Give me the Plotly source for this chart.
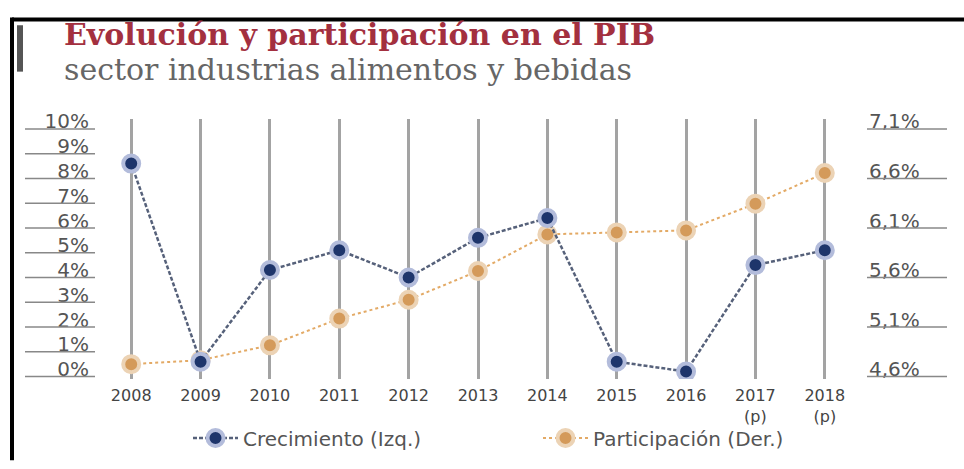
import plotly.graph_objects as go

years = ["2008", "2009", "2010", "2011", "2012", "2013", "2014", "2015", "2016", "2017", "2018"]
year_labels = ["2008", "2009", "2010", "2011", "2012", "2013", "2014", "2015", "2016", "2017<br>(p)", "2018<br>(p)"]
crecimiento = [8.3, 0.3, 4.0, 4.8, 3.7, 5.3, 6.1, 0.3, -0.1, 4.2, 4.8]
participacion = [4.65, 4.69, 4.84, 5.11, 5.30, 5.59, 5.96, 5.98, 6.00, 6.27, 6.58]
left_ticks = [0, 1, 2, 3, 4, 5, 6, 7, 8, 9, 10]
left_labels = ["0%", "1%", "2%", "3%", "4%", "5%", "6%", "7%", "8%", "9%", "10%"]
right_ticks = [4.6, 5.1, 5.6, 6.1, 6.6, 7.1]
right_labels = ["4,6%", "5,1%", "5,6%", "6,1%", "6,6%", "7,1%"]

W, H = 964, 469
ML, MR, MT, MB = 100, 108, 119, 81
PW, PH = W - ML - MR, H - MT - MB


def px_x(p):
    return (p - ML) / PW


def px_y(p):
    return (H - MB - p) / PH


BLUE = "#1e356b"
BLUE_HALO = "#b3bcdb"
ORANGE = "#d49a5a"
ORANGE_HALO = "#ecd3b5"
TXT = "#555555"

fig = go.Figure()
# right axis (participación) is the base axis "y"; left axis (crecimiento) overlays it as "y2"
fig.add_trace(go.Scatter(
    x=years, y=participacion, yaxis="y", name="Participación (Der.)",
    mode="lines+markers",
    line=dict(color="#e3aa66", width=2, dash="dot"),
    marker=dict(size=16, color=ORANGE, line=dict(color=ORANGE_HALO, width=4)),
))
fig.add_trace(go.Scatter(
    x=years, y=crecimiento, yaxis="y2", name="Crecimiento (Izq.)",
    mode="lines+markers",
    line=dict(color="#56617a", width=2.5, dash="4px,2px"),
    marker=dict(size=16, color=BLUE, line=dict(color=BLUE_HALO, width=4)),
))

shapes = []
for t in left_ticks:
    shapes.append(dict(type="line", xref="paper", yref="y2",
                       x0=px_x(25), x1=px_x(95), y0=t - 0.3, y1=t - 0.3,
                       line=dict(color="#888888", width=1.5)))
for t in right_ticks:
    shapes.append(dict(type="line", xref="paper", yref="y",
                       x0=px_x(867), x1=px_x(947), y0=t - 0.075, y1=t - 0.075,
                       line=dict(color="#888888", width=1.5)))
# frame
shapes.append(dict(type="line", xref="paper", yref="paper",
                   x0=px_x(12), x1=px_x(966), y0=px_y(16), y1=px_y(16),
                   line=dict(color="black", width=4)))
shapes.append(dict(type="line", xref="paper", yref="paper",
                   x0=px_x(12), x1=px_x(12), y0=px_y(14), y1=px_y(472),
                   line=dict(color="black", width=4)))
shapes.append(dict(type="line", xref="paper", yref="paper",
                   x0=px_x(20), x1=px_x(20), y0=px_y(22), y1=px_y(70),
                   line=dict(color="#555555", width=6)))

annotations = [
    dict(text="<b>Evolución y participación en el PIB</b>", xref="paper", yref="paper",
         x=px_x(62), y=px_y(32), xanchor="left", yanchor="middle", showarrow=False,
         font=dict(family="DejaVu Serif", size=30, color="#a3303f")),
    dict(text="sector industrias alimentos y bebidas", xref="paper", yref="paper",
         x=px_x(62), y=px_y(68), xanchor="left", yanchor="middle", showarrow=False,
         font=dict(family="DejaVu Serif", size=30, color="#666666")),
]

fig.update_layout(
    width=W, height=H,
    margin=dict(l=ML, r=MR, t=MT, b=MB),
    paper_bgcolor="white", plot_bgcolor="white",
    showlegend=True,
    legend=dict(orientation="h", x=px_x(188), y=px_y(449), xanchor="left", yanchor="middle",
                bgcolor="rgba(0,0,0,0)",
                font=dict(family="DejaVu Sans", size=20, color=TXT), itemwidth=45,
                traceorder="reversed", entrywidth=290, entrywidthmode="pixels"),
    xaxis=dict(type="category", range=[-0.45, 10.45], tickvals=years, ticktext=year_labels,
               showgrid=True, gridcolor="#a3a3a3", gridwidth=3, zeroline=False,
               showline=False, ticks="", ticklabelstandoff=5,
               tickfont=dict(family="DejaVu Sans", size=16, color="#444444")),
    yaxis=dict(range=[4.5, 7.125], side="right", tickvals=right_ticks,
               ticktext=right_labels, showgrid=False, zeroline=False, ticks="",
               ticklabelstandoff=12, tickfont=dict(family="DejaVu Sans", size=20, color=TXT)),
    yaxis2=dict(range=[-0.4, 10.1], overlaying="y", side="left", tickvals=left_ticks,
                ticktext=left_labels, showgrid=False, zeroline=False, ticks="",
                ticklabelstandoff=10, tickfont=dict(family="DejaVu Sans", size=20, color=TXT)),
    shapes=shapes, annotations=annotations,
)

fig.write_html("out.html")
